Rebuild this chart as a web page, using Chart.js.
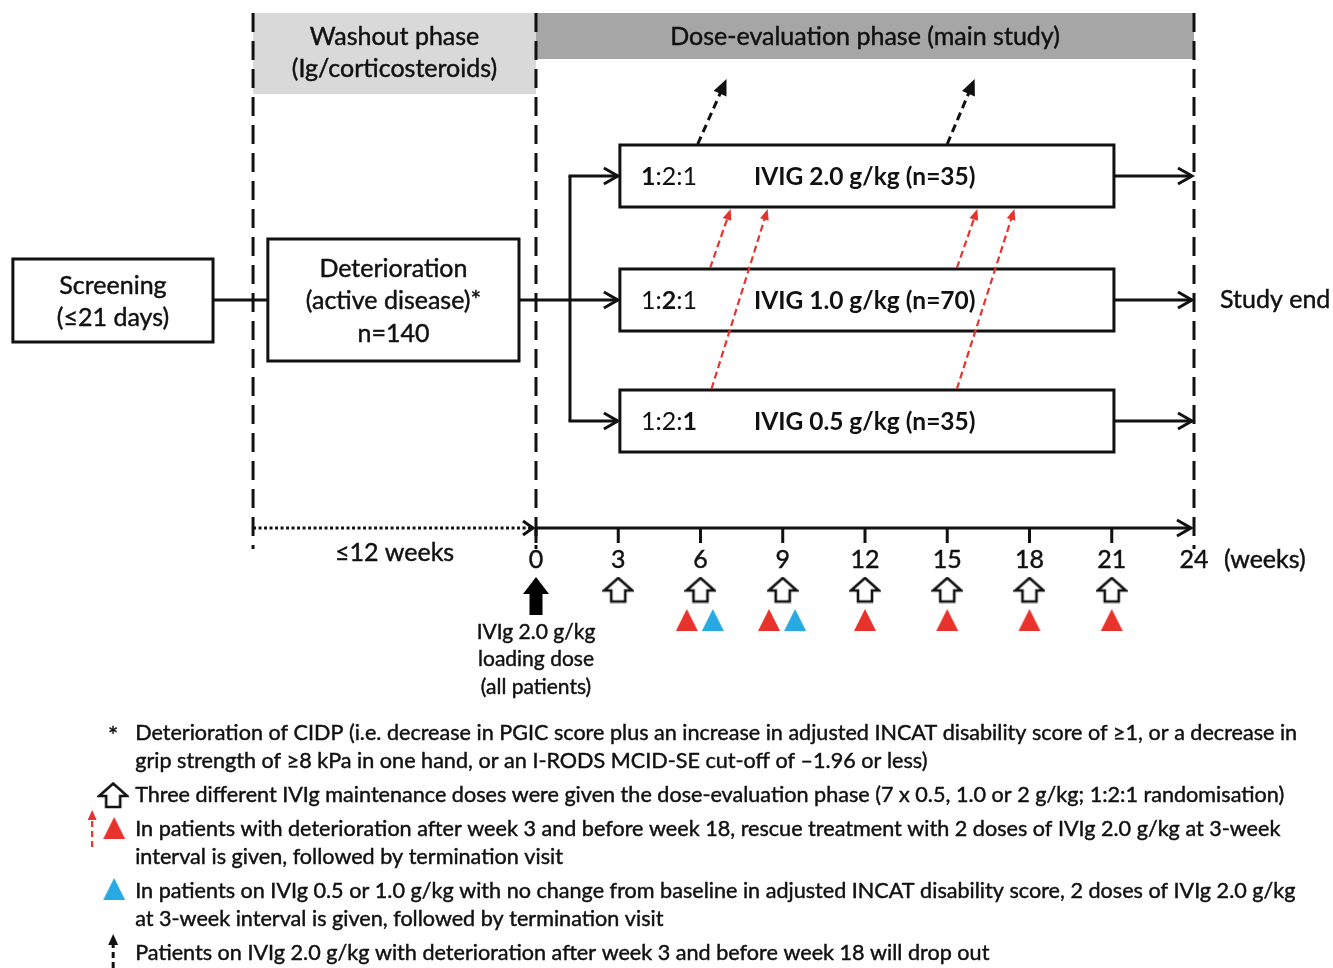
<!DOCTYPE html>
<html lang="en">
<head>
<meta charset="utf-8">
<script src="https://cdn.jsdelivr.net/npm/chart.js/dist/chart.umd.min.js"></script>
<style>
  html, body { margin: 0; padding: 0; background: #fff; }
  #wrap { width: 1333px; height: 968px; }
</style>
</head>
<body>
<div id="wrap"><canvas id="design"></canvas></div>
<script>
// ---- data (weeks) ----
const weekTicks = [0, 3, 6, 9, 12, 15, 18, 21, 24];
const maintenanceWeeks = [3, 6, 9, 12, 15, 18, 21];   // open arrows
const loadingWeeks = [0];                              // black arrow
const rescueWeeks = [5.5, 8.5, 12, 15, 18, 21];        // red triangles
const noChangeWeeks = [6.45, 9.45];                    // blue triangles
const armLabels = ['IVIG 2.0 g/kg (n=35)', 'IVIG 1.0 g/kg (n=70)', 'IVIG 0.5 g/kg (n=35)'];
const ratioDigits = ['1', '2', '1'];
// rescue arrows: [from week, from arm, to week, to arm]
const rescueArrows = [[6.35, 1, 7.1, 0], [6.4, 2, 8.45, 0], [15.35, 1, 16.1, 0], [15.35, 2, 17.45, 0]];
// drop-out arrows: [from week, to week]
const dropArrows = [[5.9, 6.95], [15.0, 16.0]];
const footnotes = [
  'Deterioration of CIDP (i.e. decrease in PGIC score plus an increase in adjusted INCAT disability score of \u22651, or a decrease in',
  'grip strength of \u22658 kPa in one hand, or an I-RODS MCID-SE cut-off of \u20131.96 or less)',
  'Three different IVIg maintenance doses were given the dose-evaluation phase (7 x 0.5, 1.0 or 2 g/kg; 1:2:1 randomisation)',
  'In patients with deterioration after week 3 and before week 18, rescue treatment with 2 doses of IVIg 2.0 g/kg at 3-week',
  'interval is given, followed by termination visit',
  'In patients on IVIg 0.5 or 1.0 g/kg with no change from baseline in adjusted INCAT disability score, 2 doses of IVIg 2.0 g/kg',
  'at 3-week interval is given, followed by termination visit',
  'Patients on IVIg 2.0 g/kg with deterioration after week 3 and before week 18 will drop out'
];

// ---- layout (x in weeks, y in layout units top-down) ----
const L = {
  phaseX: [-10.32, 0, 24],
  headTop: 13, darkBottom: 59, lightBottom: 94, dashBottom: 549,
  screen: [-19.08, -11.78, 259, 342],
  deter: [-9.78, -0.62, 239, 361],
  mainY: 300, branchX: 1.24,
  armX: [3.06, 21.08], armY: [176, 300, 421], armHalf: 31,
  axisY: 528, labelY: 560, visitY: 590, loadY: 596, triY: 620,
  footY: [733, 761, 795, 829, 857, 891, 919, 953], footX: -14.62
};
const FF = 'Lato, "Open Sans", sans-serif';
const INK = '#111';
const RED = '#e8322c';
const BLUE = '#27a9e1';

// marker images
function makeCanvas(w, h, draw) {
  const c = document.createElement('canvas');
  c.width = w; c.height = h;
  draw(c.getContext('2d'));
  return c;
}
const openArrow = makeCanvas(32, 27, g => {
  g.beginPath();
  g.moveTo(16, 1.5); g.lineTo(30, 14); g.lineTo(23, 14); g.lineTo(23, 25);
  g.lineTo(9, 25); g.lineTo(9, 14); g.lineTo(2, 14); g.closePath();
  g.fillStyle = '#fff'; g.fill();
  g.lineWidth = 2.6; g.lineJoin = 'miter'; g.strokeStyle = INK; g.stroke();
});
const solidArrow = makeCanvas(28, 40, g => {
  g.beginPath();
  g.moveTo(14, 1); g.lineTo(27, 18); g.lineTo(20.5, 18); g.lineTo(20.5, 39);
  g.lineTo(7.5, 39); g.lineTo(7.5, 18); g.lineTo(1, 18); g.closePath();
  g.fillStyle = '#000'; g.fill();
});
function triangle(color) {
  return makeCanvas(24, 24, g => {
    g.beginPath(); g.moveTo(12, 1); g.lineTo(23, 23); g.lineTo(1, 23); g.closePath();
    g.fillStyle = color; g.fill();
  });
}
const redTri = triangle(RED), blueTri = triangle(BLUE);

// ---- drawing helpers ----
function line(ctx, x1, y1, x2, y2, w, color, dash) {
  ctx.save();
  ctx.beginPath(); ctx.moveTo(x1, y1); ctx.lineTo(x2, y2);
  ctx.lineWidth = w; ctx.strokeStyle = color; ctx.setLineDash(dash || []);
  ctx.stroke(); ctx.restore();
}
function chevron(ctx, x, y, ang, len, half, w, color) {
  const c = Math.cos(ang), s = Math.sin(ang);
  ctx.save();
  ctx.beginPath();
  ctx.moveTo(x - c * len - s * half, y - s * len + c * half);
  ctx.lineTo(x, y);
  ctx.lineTo(x - c * len + s * half, y - s * len - c * half);
  ctx.lineWidth = w; ctx.strokeStyle = color; ctx.lineJoin = 'miter'; ctx.setLineDash([]);
  ctx.stroke(); ctx.restore();
}
function head(ctx, x, y, ang, len, half, color) {
  const c = Math.cos(ang), s = Math.sin(ang);
  ctx.save();
  ctx.beginPath();
  ctx.moveTo(x, y);
  ctx.lineTo(x - c * len - s * half, y - s * len + c * half);
  ctx.lineTo(x - c * len + s * half, y - s * len - c * half);
  ctx.closePath(); ctx.fillStyle = color; ctx.fill(); ctx.restore();
}
function dashedArrow(ctx, x1, y1, x2, y2, w, color, dash, hl, hh) {
  const ang = Math.atan2(y2 - y1, x2 - x1);
  line(ctx, x1, y1, x2 - Math.cos(ang) * hl * 0.8, y2 - Math.sin(ang) * hl * 0.8, w, color, dash);
  head(ctx, x2, y2, ang, hl, hh, color);
}
function text(ctx, s, x, y, size, align, bold, maxW) {
  ctx.font = (bold ? 'bold ' : '') + size + 'px ' + FF;
  ctx.textAlign = align || 'center';
  ctx.textBaseline = 'middle';
  ctx.fillStyle = INK;
  if (maxW) ctx.fillText(s, x, y, maxW); else ctx.fillText(s, x, y);
  if (!bold) {   // thicken the light face a little
    ctx.lineWidth = 0.45; ctx.strokeStyle = INK; ctx.setLineDash([]);
    if (maxW) ctx.strokeText(s, x, y, maxW); else ctx.strokeText(s, x, y);
  }
}
function box(ctx, x0, y0, x1, y1) {
  ctx.save();
  ctx.fillStyle = '#fff'; ctx.fillRect(x0, y0, x1 - x0, y1 - y0);
  ctx.lineWidth = 3; ctx.strokeStyle = INK; ctx.strokeRect(x0, y0, x1 - x0, y1 - y0);
  ctx.restore();
}

const designPlugin = {
  id: 'design',
  beforeDatasetsDraw(chart) {
    const { ctx, scales: { x, y } } = chart;
    const X = v => x.getPixelForValue(v), Y = v => y.getPixelForValue(v);
    ctx.save();

    // phase header bands
    ctx.fillStyle = '#d9d9d9';
    ctx.fillRect(X(L.phaseX[0]), Y(L.headTop), X(L.phaseX[1]) - X(L.phaseX[0]), Y(L.lightBottom) - Y(L.headTop));
    ctx.fillStyle = '#a6a6a6';
    ctx.fillRect(X(L.phaseX[1]), Y(L.headTop), X(L.phaseX[2]) - X(L.phaseX[1]), Y(L.darkBottom) - Y(L.headTop));
    const washMid = (X(L.phaseX[0]) + X(L.phaseX[1])) / 2;
    text(ctx, 'Washout phase', washMid, Y(37), 25);
    text(ctx, '(Ig/corticosteroids)', washMid, Y(69), 25);
    text(ctx, 'Dose-evaluation phase (main study)', (X(L.phaseX[1]) + X(L.phaseX[2])) / 2, Y(37), 25);

    // dashed phase boundaries
    L.phaseX.forEach(w => line(ctx, X(w), Y(L.headTop), X(w), Y(L.dashBottom), 3, INK, [19, 9]));

    // screening and deterioration boxes
    const [sx0, sx1, sy0, sy1] = L.screen;
    const [dx0, dx1, dy0, dy1] = L.deter;
    line(ctx, X(sx1), Y(L.mainY), X(dx0), Y(L.mainY), 3, INK);
    line(ctx, X(dx1), Y(L.mainY), X(L.armX[0]) - 2, Y(L.mainY), 3, INK);
    box(ctx, X(sx0), Y(sy0), X(sx1), Y(sy1));
    box(ctx, X(dx0), Y(dy0), X(dx1), Y(dy1));
    const sMid = (X(sx0) + X(sx1)) / 2, dMid = (X(dx0) + X(dx1)) / 2;
    text(ctx, 'Screening', sMid, Y(286), 25);
    text(ctx, '(\u226421 days)', sMid, Y(318), 25);
    text(ctx, 'Deterioration', dMid, Y(269), 25);
    text(ctx, '(active disease)*', dMid, Y(301), 25);
    text(ctx, 'n=140', dMid, Y(334), 25);

    // randomisation branches
    line(ctx, X(L.branchX), Y(L.armY[0]), X(L.branchX), Y(L.armY[2]), 3, INK);
    L.armY.forEach((ay, i) => {
      if (i !== 1) line(ctx, X(L.branchX) - 1.5, Y(ay), X(L.armX[0]) - 2, Y(ay), 3, INK);
      chevron(ctx, X(L.armX[0]) - 2, Y(ay), 0, 14, 8, 3, INK);
      line(ctx, X(L.armX[1]), Y(ay), X(24) - 2, Y(ay), 3, INK);
      chevron(ctx, X(24) - 2, Y(ay), 0, 14, 8, 3, INK);
    });

    // arm boxes
    L.armY.forEach((ay, i) => {
      box(ctx, X(L.armX[0]), Y(ay - L.armHalf), X(L.armX[1]), Y(ay + L.armHalf));
      let cx = X(L.armX[0]) + 21;
      ctx.textAlign = 'left'; ctx.textBaseline = 'middle'; ctx.fillStyle = INK;
      ratioDigits.forEach((d, k) => {
        ctx.font = (k === i ? 'bold ' : '') + '25px ' + FF;
        ctx.fillText(d, cx, Y(ay + 1));
        cx += ctx.measureText(d).width;
        if (k < 2) {
          ctx.font = '25px ' + FF;
          ctx.fillText(':', cx, Y(ay + 1));
          cx += ctx.measureText(':').width;
        }
      });
      text(ctx, armLabels[i], X(L.armX[0]) + 134, Y(ay + 1), 24.5, 'left', true, 228);
    });
    text(ctx, 'Study end', X(24) + 26, Y(L.mainY), 25, 'left');

    // drop-out and rescue arrows
    dropArrows.forEach(([w0, w1]) =>
      dashedArrow(ctx, X(w0), Y(L.armY[0] - L.armHalf - 1), X(w1), Y(79), 3, INK, [8, 5], 16, 7));
    rescueArrows.forEach(([w0, a0, w1, a1]) =>
      dashedArrow(ctx, X(w0), Y(L.armY[a0] - L.armHalf - 1), X(w1), Y(L.armY[a1] + L.armHalf + 2), 2.2, RED, [7, 4], 11, 4.5));

    // time axis
    line(ctx, X(L.phaseX[0]), Y(L.axisY), X(0) - 4, Y(L.axisY), 3, INK, [3, 2.5]);
    chevron(ctx, X(0) - 3, Y(L.axisY), 0, 10, 7, 3, INK);
    line(ctx, X(0), Y(L.axisY), X(24) - 3, Y(L.axisY), 3, INK);
    chevron(ctx, X(24) - 3, Y(L.axisY), 0, 14, 8, 3, INK);
    weekTicks.forEach(w => {
      if (w < 24) line(ctx, X(w), Y(L.axisY), X(w), Y(L.axisY + 15), 3, INK);
      text(ctx, String(w), X(w), Y(L.labelY), 25);
    });
    text(ctx, '(weeks)', X(24) + 30, Y(L.labelY), 25, 'left');
    text(ctx, '\u226412 weeks', washMid, Y(553), 25);
    text(ctx, 'IVIg 2.0 g/kg', X(0), Y(632), 21);
    text(ctx, 'loading dose', X(0), Y(659), 21);
    text(ctx, '(all patients)', X(0), Y(687), 21);

    // footnotes
    const fx = X(L.footX), fw = 1162;
    footnotes.forEach((s, i) => text(ctx, s, fx, Y(L.footY[i]), 21.6, 'left', false, fw));
    text(ctx, '*', X(L.footX) - 22, Y(735), 24);
    ctx.drawImage(openArrow, X(L.footX) - 38, Y(795) - 13);
    dashedArrow(ctx, X(L.footX) - 43, Y(847), X(L.footX) - 43, Y(810), 2.2, RED, [6, 4], 10, 4.5);
    ctx.drawImage(redTri, X(L.footX) - 33, Y(828) - 12);
    ctx.drawImage(blueTri, X(L.footX) - 33, Y(889) - 12);
    dashedArrow(ctx, X(L.footX) - 22, Y(968), X(L.footX) - 22, Y(934), 3, INK, [6, 4], 11, 5);

    ctx.restore();
  }
};

const pts = (weeks, yv) => weeks.map(w => ({ x: w, y: yv }));

new Chart(document.getElementById('design'), {
  type: 'scatter',
  data: {
    datasets: [
      { label: 'Maintenance dose', data: pts(maintenanceWeeks, L.visitY), pointStyle: openArrow, pointRadius: 12 },
      { label: 'Loading dose', data: pts(loadingWeeks, L.loadY), pointStyle: solidArrow, pointRadius: 12 },
      { label: 'Rescue', data: pts(rescueWeeks, L.triY), pointStyle: redTri, pointRadius: 12 },
      { label: 'No change', data: pts(noChangeWeeks, L.triY), pointStyle: blueTri, pointRadius: 12 }
    ]
  },
  options: {
    responsive: true,
    maintainAspectRatio: false,
    animation: false,
    events: [],
    layout: { padding: 0, autoPadding: false },
    plugins: { legend: { display: false }, tooltip: { enabled: false } },
    scales: {
      x: { type: 'linear', display: false, min: -19.55, max: 29.07 },
      y: { type: 'linear', display: false, min: 0, max: 968, reverse: true }
    }
  },
  plugins: [designPlugin]
});
</script>
</body>
</html>
